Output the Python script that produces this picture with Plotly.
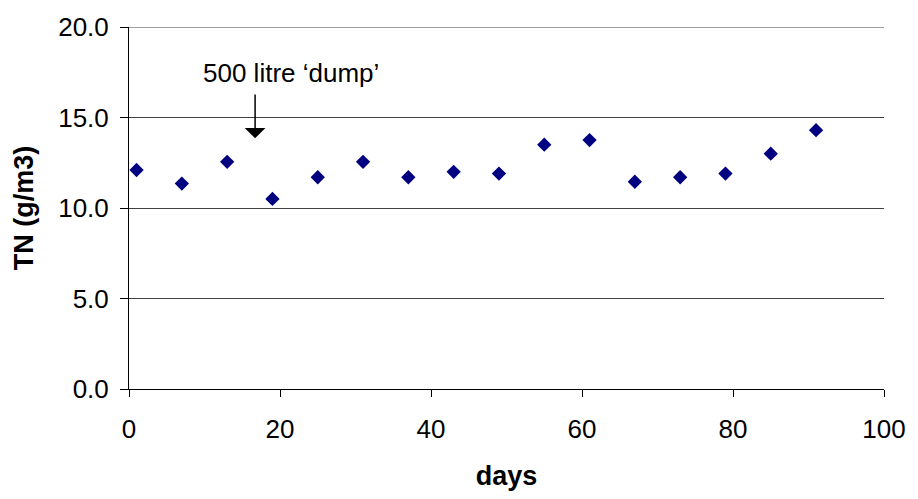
import plotly.graph_objects as go

days = [1, 7, 13, 19, 25, 31, 37, 43, 49, 55, 61, 67, 73, 79, 85, 91]
tn = [12.1, 11.35, 12.55, 10.5, 11.7, 12.55, 11.7, 12.0, 11.9, 13.5, 13.75, 11.45, 11.7, 11.9, 13.0, 14.3]

annot_text = "500 litre \u2018dump\u2019"
dump_day = 16.7
y_max = 20

FONT = "Arial, Liberation Sans, sans-serif"

fig = go.Figure()
fig.add_trace(go.Scatter(
    x=days, y=tn, mode="markers",
    marker=dict(symbol="diamond", size=11, color="#000080",
                line=dict(width=0)),
    showlegend=False,
))

fig.add_annotation(
    x=dump_day, y=13.85, ax=dump_day, ay=16.35,
    xref="x", yref="y", axref="x", ayref="y",
    text="", showarrow=True, arrowhead=1, arrowsize=2.3, arrowwidth=1.5,
    arrowcolor="black",
)
fig.add_annotation(
    x=21.4, y=17.45, xref="x", yref="y", text=annot_text, showarrow=False,
    font=dict(family=FONT, size=26, color="black"),
)

# top gridline (plotly drops gridlines at the range edge)
fig.add_shape(type="line", xref="paper", x0=0, x1=1, yref="y", y0=y_max, y1=y_max,
              line=dict(color="#404040", width=1), layer="below")

fig.update_layout(
    width=918, height=499,
    margin=dict(l=129, r=28, t=19, b=110),
    plot_bgcolor="white", paper_bgcolor="white",
    font=dict(family=FONT, size=26, color="black"),
    xaxis=dict(
        range=[0, 100], tickmode="array", tickvals=[0, 20, 40, 60, 80, 100],
        showgrid=False, zeroline=False, showline=True, linecolor="black",
        linewidth=1, ticks="outside", ticklen=7, tickcolor="black",
        ticklabelstandoff=10,
        title=dict(text="<b>days</b>", font=dict(family=FONT, size=27), standoff=22),
        tickfont=dict(family=FONT, size=26),
    ),
    yaxis=dict(
        range=[0, y_max], tickmode="array", tickvals=[0, 5, 10, 15, 20],
        ticktext=["0.0", "5.0", "10.0", "15.0", "20.0"],
        showgrid=True, gridcolor="#404040", gridwidth=1,
        zeroline=False, showline=True, linecolor="black", linewidth=1,
        ticks="outside", ticklen=8, tickcolor="black",
        ticklabelstandoff=6,
        title=dict(text="<b>TN (g/m3)</b>", font=dict(family=FONT, size=27), standoff=16),
        tickfont=dict(family=FONT, size=26),
    ),
)

fig.write_html("out.html", config={"displayModeBar": False},
               post_script="document.body.style.margin='0';")
